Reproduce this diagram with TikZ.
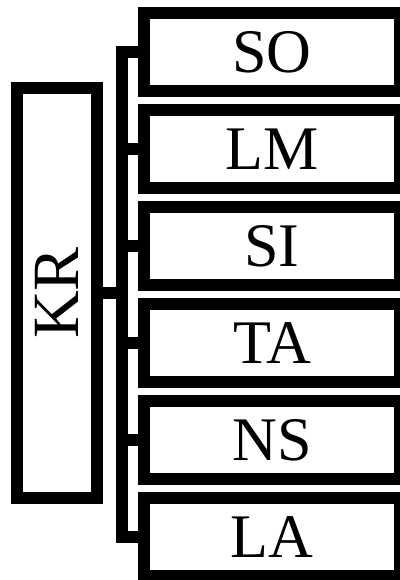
\documentclass[tikz,border=0pt]{standalone}
\usepackage{fontspec}
\setmainfont{Liberation Serif}
\usetikzlibrary{positioning}

\begin{document}
\begin{tikzpicture}[
    x=1pt, y=-1pt,
    font=\fontsize{62}{62}\selectfont,
    catbox/.style={rectangle, draw=black, line width=12pt, minimum width=256pt,
      minimum height=78pt, inner sep=0pt, align=center},
    rootbox/.style={rectangle, draw=black, line width=12pt, minimum width=410pt,
      minimum height=80pt, inner sep=0pt, rotate=90, font=\fontsize{66}{66}\selectfont},
    link/.style={draw=black, line width=12pt, line join=miter},
  ]
  \useasboundingbox (0,0) rectangle (399,580);

  \node[rootbox] (kr) at (57,293)    {KR};

  \node[catbox]  (so) at (272,52)  {SO};
  \node[catbox]  (lm) at (272,149) {LM};
  \node[catbox]  (si) at (272,246) {SI};
  \node[catbox]  (ta) at (272,343) {TA};
  \node[catbox]  (ns) at (272,440) {NS};
  \node[catbox]  (la) at (272,537) {LA};

  \coordinate (fork) at (122,293);

  \draw[link] (kr.south) -- (fork);
  \draw[link] (fork) |- (so.west);
  \draw[link] (fork) |- (lm.west);
  \draw[link] (fork) |- (si.west);
  \draw[link] (fork) |- (ta.west);
  \draw[link] (fork) |- (ns.west);
  \draw[link] (fork) |- (la.west);
\end{tikzpicture}
\end{document}
